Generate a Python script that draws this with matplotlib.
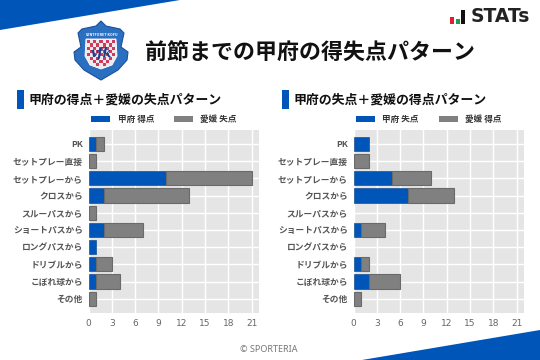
import matplotlib
matplotlib.use("Agg")
import matplotlib.pyplot as plt
from matplotlib.patches import Polygon, Rectangle

plt.rcParams['font.family'] = ['Noto Sans CJK JP', 'DejaVu Sans']

categories = ['PK', 'セットプレー直接', 'セットプレーから', 'クロスから', 'スルーパスから',
              'ショートパスから', 'ロングパスから', 'ドリブルから', 'こぼれ球から', 'その他']
left_kofu = [1, 0, 10, 2, 0, 2, 1, 1, 1, 0]
left_ehime = [1, 1, 11, 11, 1, 5, 0, 2, 3, 1]
right_kofu = [2, 0, 5, 7, 0, 1, 0, 1, 2, 0]
right_ehime = [0, 2, 5, 6, 0, 3, 0, 1, 4, 1]
x_ticks = [0, 3, 6, 9, 12, 15, 18, 21]

BLUE = '#0055b8'
GREY = '#808080'
W, H = 540, 360

fig = plt.figure(figsize=(5.4, 3.6), dpi=100, facecolor='white')

# Overlay in pixel coordinates for decoration
bg = fig.add_axes([0, 0, 1, 1], zorder=0)
bg.set_xlim(0, W)
bg.set_ylim(H, 0)
bg.axis('off')
bg.add_patch(Polygon([(0, 0), (180, 0), (0, 30)], color=BLUE, lw=0))
bg.add_patch(Polygon([(362, 360), (540, 330), (540, 360)], color=BLUE, lw=0))

# Crest (approximate)
bg.add_patch(Polygon([(101, 21), (106, 26), (120, 29), (124, 33), (121, 47), (128, 52), (127, 60),
                      (118, 70), (101, 80), (84, 70), (75, 60), (74, 52), (81, 47), (78, 33),
                      (82, 29), (96, 26)], facecolor='#2a6fc0', edgecolor='#1c4f9c', lw=0.8))
bg.add_patch(Polygon([(86, 39), (116, 39), (117, 56), (112, 65), (101, 69), (90, 65), (85, 56)],
                     facecolor='#efeaec', edgecolor='white', lw=0.6))
for r in range(8):
    for c in range(9):
        if (r + c) % 2 == 0 and not (r > 5 and (c < 2 or c > 6)):
            bg.add_patch(Rectangle((87 + c * 3.1, 40 + r * 3.3), 3.1, 3.3, facecolor='#d23a5c', lw=0))
bg.text(101, 53, 'vfk', ha='center', va='center', fontsize=9, color='#1c3f8c',
        family='DejaVu Serif', style='italic', weight='bold')
bg.text(101, 34.5, 'VENTFORET KOFU', ha='center', va='center', fontsize=2.6, color='white', weight='bold')

bg.text(145, 53, '前節までの甲府の得失点パターン', ha='left', va='center', fontsize=15.8,
        color='#111111', weight='bold')

# STATs logo
bg.add_patch(Rectangle((450, 17), 4, 7, color='#e0202c', lw=0))
bg.add_patch(Rectangle((456, 19), 4, 5, color='#18a050', lw=0))
bg.add_patch(Rectangle((461, 10), 4, 14, color='#111111', lw=0))
bg.text(471, 17, 'STATs', ha='left', va='center', fontsize=13.5, color='#222222', weight='bold',
        family='DejaVu Sans')

bg.text(269, 350, '© SPORTERIA', ha='center', va='center', fontsize=6.5, color='#777777',
        family='Noto Sans')


def panel(x0, title_x, title, kofu, ehime, name_a, name_b):
    ax = fig.add_axes([x0 / W, 1 - 313 / H, 170.5 / W, 183 / H], zorder=2)
    ypos = list(range(len(categories)))
    ax.set_facecolor('#e5e5e5')
    ax.grid(True, color='white', lw=1.0)
    ax.set_axisbelow(True)
    for y, a, b in zip(ypos, kofu, ehime):
        if a > 0:
            ax.barh(y, a, height=0.83, color=BLUE, edgecolor='#1a4f96', lw=0.5)
        if b > 0:
            ax.barh(y, b, left=a, height=0.83, color=GREY, edgecolor='#6a6a6a', lw=0.8)
    ax.set_xlim(0, 21.95)
    ax.set_ylim(9.83, -0.81)
    ax.set_yticks(ypos)
    ax.set_yticklabels(categories, fontsize=6.3, color='#555555', weight='bold')
    ax.set_xticks(x_ticks)
    ax.tick_params(axis='x', labelsize=6.5, labelcolor='#666666', length=0, pad=4)
    ax.tick_params(axis='y', length=0, pad=4)
    for lab in ax.get_xticklabels():
        lab.set_family('DejaVu Sans')
    for s in ax.spines.values():
        s.set_visible(False)

    bg.add_patch(Rectangle((title_x - 12, 90), 7, 19, color=BLUE, lw=0))
    bg.text(title_x, 100, title, ha='left', va='center', fontsize=9.3, color='#111111', weight='bold')
    bg.add_patch(Rectangle((x0 + 2.5, 115.5), 19, 6.5, color=BLUE, lw=0))
    bg.text(x0 + 29, 119, name_a, ha='left', va='center', fontsize=6.2, color='#333333', weight='bold')
    bg.add_patch(Rectangle((x0 + 85.5, 115.5), 19, 6.5, color=GREY, lw=0))
    bg.text(x0 + 111.5, 119, name_b, ha='left', va='center', fontsize=6.2, color='#333333', weight='bold')


panel(88.5, 29, '甲府の得点＋愛媛の失点パターン', left_kofu, left_ehime, '甲府 得点', '愛媛 失点')
panel(353.5, 293.5, '甲府の失点＋愛媛の得点パターン', right_kofu, right_ehime, '甲府 失点', '愛媛 得点')

fig.savefig('out.png', dpi=100)
